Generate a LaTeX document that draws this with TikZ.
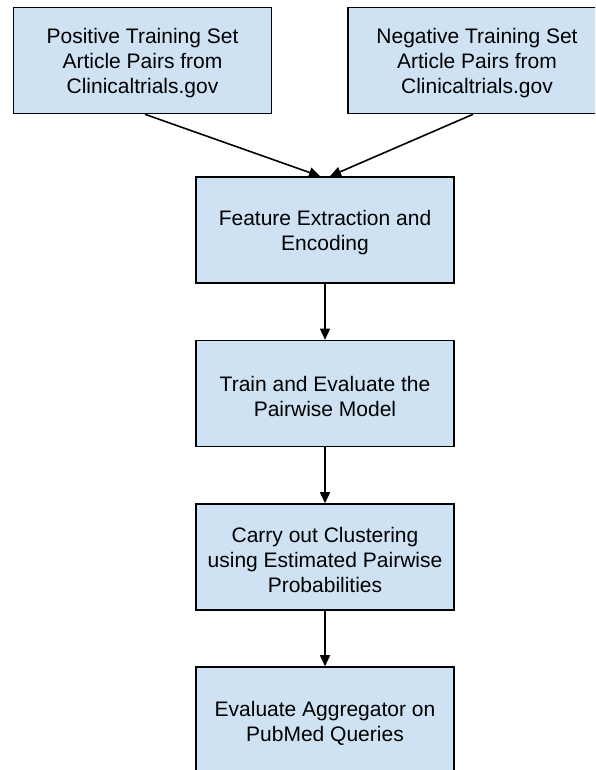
\documentclass[tikz,border=0pt]{standalone}
\usepackage{fontspec}
\setmainfont{Liberation Sans}
\usetikzlibrary{arrows.meta}
\definecolor{boxfill}{HTML}{CFE2F3}
\tikzset{
  stepbox/.style={draw=black, line width=1.6pt, fill=boxfill, rectangle, inner sep=0pt,
    minimum width=258pt, minimum height=106pt},
  boxtext/.style={align=center, yshift=-3pt, font=\fontsize{21}{25}\selectfont},
  conn/.style={line width=1.6pt, -{Triangle[length=11pt,width=10pt]}}
}
\begin{document}
\begin{tikzpicture}[x=1pt,y=-1pt]
\useasboundingbox (0,0) rectangle (595,770);
\clip (0,0) rectangle (595,770);
\node[stepbox, label={[boxtext]center:Positive Training Set\\Article Pairs from\\Clinicaltrials.gov}] (pos) at (142.5,60.5) {};
\node[stepbox, label={[boxtext]center:Negative Training Set\\Article Pairs from\\Clinicaltrials.gov}] (neg) at (477,60.5) {};
\node[stepbox, label={[boxtext]center:Feature Extraction and\\Encoding}] (feat) at (325,230) {};
\node[stepbox, label={[boxtext]center:Train and Evaluate the\\Pairwise Model}] (train) at (325,393.5) {};
\node[stepbox, label={[boxtext]center:Carry out Clustering\\using Estimated Pairwise\\Probabilities}] (clust) at (325,557) {};
\node[stepbox, label={[boxtext]center:Evaluate Aggregator on\\PubMed Queries}] (eval) at (325,720) {};
\draw[conn] ([xshift=2.5pt]pos.south) -- ([xshift=-5pt]feat.north);
\draw[conn] ([xshift=-4pt]neg.south) -- ([xshift=5pt]feat.north);
\draw[conn] (feat) -- (train);
\draw[conn] (train) -- (clust);
\draw[conn] (clust) -- (eval);
\end{tikzpicture}
\end{document}
